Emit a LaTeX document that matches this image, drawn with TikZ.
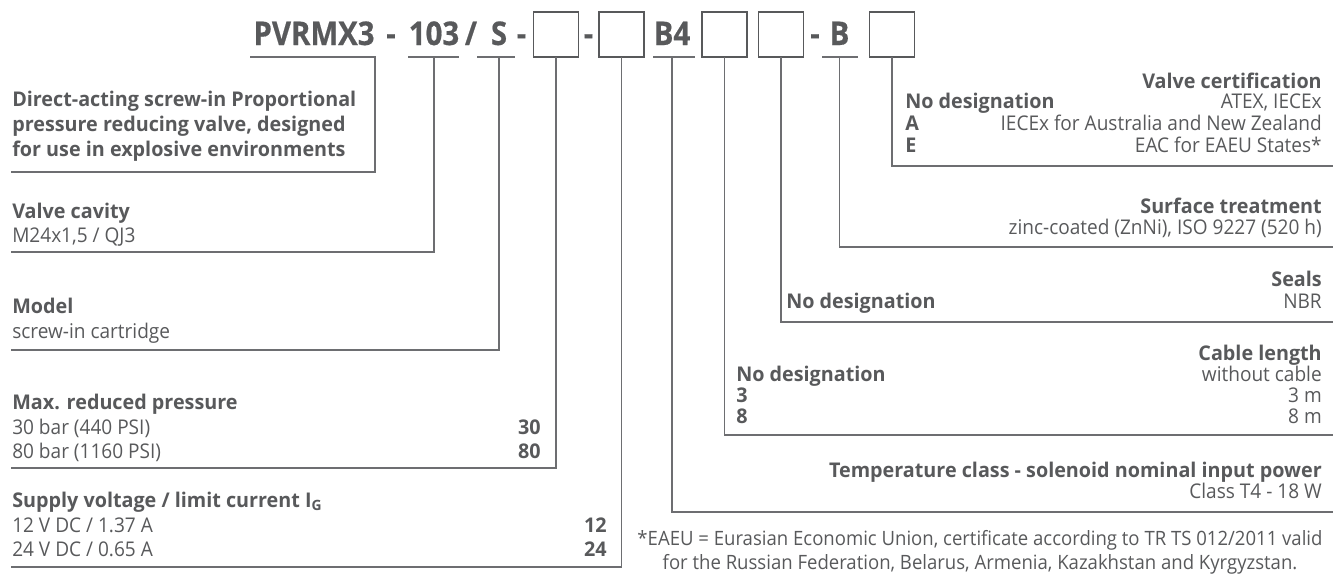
\documentclass[tikz,border=0pt]{standalone}
\usepackage{fontspec}
\setmainfont{Open Sans}[UprightFeatures={FakeStretch=0.94},BoldFeatures={FakeStretch=0.975}]
\newfontfamily\codefont[FakeStretch=0.9,BoldFeatures={FakeStretch=0.9,FakeBold=0.5}]{Open Sans}
\usetikzlibrary{positioning}
\definecolor{inkgray}{HTML}{58595B}
\definecolor{rulegray}{HTML}{6D6E71}
\tikzset{
  txt/.style={inner sep=0pt,text=inkgray,font=\fontsize{15.2}{18}\selectfont},
  ltxt/.style={txt,anchor=base west},
  lbold/.style={ltxt,font=\fontsize{15.2}{18}\selectfont\bfseries},
  rtxt/.style={txt,anchor=base east},
  rbold/.style={rtxt,font=\fontsize{15.2}{18}\selectfont\bfseries},
  note/.style={txt,anchor=base,font=\fontsize{14.8}{18}\selectfont},
  code/.style={inner sep=0pt,anchor=base,text=inkgray,font=\codefont\bfseries\fontsize{24.5}{24.5}\selectfont},
  slot/.style={draw=inkgray,line width=1.3pt,minimum width=33.75pt,minimum height=33.75pt,inner sep=0pt},
  lead/.style={draw=rulegray,line width=1.1pt}
}
\begin{document}
\begin{tikzpicture}[x=0.75pt,y=-0.75pt,line cap=rect]
\useasboundingbox (0,0) rectangle (1333,578);
% ordering code
\node[code] (pvr) at (314,45) {PVRMX3};
\node[code] (d1) at (391,45) {-};
\node[code] (cav) at (434,45) {103};
\node[code] (sl) at (471,45) {/};
\node[code] (mod) at (499,45) {S};
\node[code] (d2) at (521.5,45) {-};
\node[slot] (pres) at (556,34.5) {};
\node[code] (d3) at (588.5,45) {-};
\node[slot] (volt) at (621.5,34.5) {};
\node[code] (temp) at (672,45) {B4};
\node[slot] (cab) at (724.5,34.5) {};
\node[slot] (seal) at (781,34.5) {};
\node[code] (d4) at (815,45) {-};
\node[code] (surf) at (839.5,45) {B};
\node[slot] (cert) at (892,34.5) {};
% rule ends
\coordinate (rA) at (12,172);
\coordinate (rCav) at (12,252);
\coordinate (rMod) at (12,350);
\coordinate (rPres) at (12,468);
\coordinate (rVolt) at (12,567);
\coordinate (rCert) at (1333,166);
\coordinate (rSurf) at (1333,247);
\coordinate (rSeal) at (1333,322);
\coordinate (rCab) at (1333,435);
\coordinate (rTemp) at (1333,512);
% leaders
\draw[lead] (251,57) -- (375,57) |- (rA);
\draw[lead] (409,57) -- (458,57);
\draw[lead] (cav |- 0,57) |- (rCav);
\draw[lead] (478,57) -- (514,57);
\draw[lead] (mod |- 0,57) |- (rMod);
\draw[lead] (pres.south) |- (rPres);
\draw[lead] (volt.south) |- (rVolt);
\draw[lead] (654,57) -- (694,57);
\draw[lead] (temp |- 0,57) |- (rTemp);
\draw[lead] (cab.south) |- (rCab);
\draw[lead] (seal.south) |- (rSeal);
\draw[lead] (823,57) -- (857,57);
\draw[lead] (surf |- 0,57) |- (rSurf);
\draw[lead] (cert.south) |- (rCert);
% left column
\node[lbold] (descA) at (12,106) {Direct-acting screw-in Proportional};
\node[lbold] (descB) at (12,131) {pressure reducing valve, designed};
\node[lbold] (descC) at (12,156) {for use in explosive environments};
\node[lbold] (cavT) at (12,218) {Valve cavity};
\node[ltxt] (cavV) at (12,242) {M24x1,5 / QJ3};
\node[lbold] (modT) at (12,313) {Model};
\node[ltxt] (modV) at (12,338) {screw-in cartridge};
\node[lbold] (presT) at (12,409) {Max. reduced pressure};
\node[ltxt] (presA) at (12,434) {30 bar (440 PSI)};
\node[rbold] (presAc) at (541,434) {30};
\node[ltxt] (presB) at (12,458) {80 bar (1160 PSI)};
\node[rbold] (presBc) at (541,458) {80};
\node[lbold] (voltT) at (12,507) {Supply voltage / limit current I\textsubscript{G}};
\node[ltxt] (voltA) at (12,532) {12 V DC / 1.37 A};
\node[rbold] (voltAc) at (607,532) {12};
\node[ltxt] (voltB) at (12,556) {24 V DC / 0.65 A};
\node[rbold] (voltBc) at (607,556) {24};
% right column
\node[rbold] (certT) at (1322,88) {Valve certification};
\node[lbold] (certN) at (905,108) {No designation};
\node[rtxt] (certNv) at (1322,108) {ATEX, IECEx};
\node[lbold] (certA) at (905,130) {A};
\node[rtxt] (certAv) at (1322,130) {IECEx for Australia and New Zealand};
\node[lbold] (certE) at (905,152) {E};
\node[rtxt] (certEv) at (1322,152) {EAC for EAEU States*};
\node[rbold] (surfT) at (1322,213) {Surface treatment};
\node[rtxt] (surfV) at (1322,234) {zinc-coated (ZnNi), ISO 9227 (520 h)};
\node[rbold] (sealT) at (1322,286) {Seals};
\node[lbold] (sealN) at (786,308) {No designation};
\node[rtxt] (sealNv) at (1322,308) {NBR};
\node[rbold] (cabT) at (1322,360) {Cable length};
\node[lbold] (cabN) at (736,381) {No designation};
\node[rtxt] (cabNv) at (1322,381) {without cable};
\node[lbold] (cab3) at (736,402) {3};
\node[rtxt] (cab3v) at (1322,402) {3 m};
\node[lbold] (cab8) at (736,423) {8};
\node[rtxt] (cab8v) at (1322,423) {8 m};
\node[rbold] (tempT) at (1322,477) {Temperature class - solenoid nominal input power};
\node[rtxt] (tempV) at (1322,498) {Class T4 - 18 W};
% footnote
\node[note] (noteA) at (980,545) {*EAEU = Eurasian Economic Union, certificate according to TR TS 012/2011 valid};
\node[note] (noteB) at (980,569) {for the Russian Federation, Belarus, Armenia, Kazakhstan and Kyrgyzstan.};
\end{tikzpicture}
\end{document}
